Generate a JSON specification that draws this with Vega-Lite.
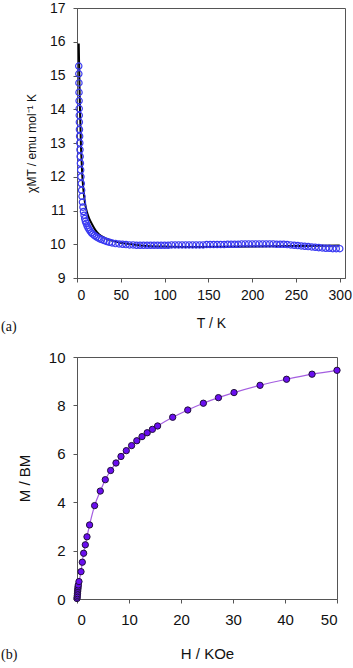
{
  "$schema": "https://vega.github.io/schema/vega-lite/v6.json",
  "padding": {"left": 0, "top": 0, "right": 5, "bottom": 2},
  "spacing": 14,
  "config": {
    "font": "Liberation Sans",
    "view": {"stroke": "#555555", "strokeWidth": 1},
    "axis": {"grid": false, "domainColor": "#555555", "tickColor": "#555555", "labelFont": "Liberation Sans", "labelFontSize": 14, "labelColor": "#111111", "labelOverlap": false, "labelSeparation": 0, "titleFont": "Liberation Sans", "titleFontWeight": "normal", "titleColor": "#111111", "tickSize": 4, "labelPadding": 6}
  },
  "datasets": {
    "chi": [
      {"T": 2.0, "chiT": 15.28}, {"T": 2.1, "chiT": 15.05}, {"T": 2.2, "chiT": 14.78}, {"T": 2.3, "chiT": 14.5}, {"T": 2.4, "chiT": 14.25}, {"T": 2.5, "chiT": 14.02}, {"T": 2.6, "chiT": 13.82}, {"T": 2.7, "chiT": 13.62}, {"T": 2.8, "chiT": 13.4}, {"T": 3.0, "chiT": 13.2}, {"T": 3.2, "chiT": 13.0}, {"T": 3.4, "chiT": 12.8}, {"T": 3.6, "chiT": 12.6}, {"T": 3.9, "chiT": 12.4}, {"T": 4.2, "chiT": 12.2}, {"T": 4.5, "chiT": 12.0}, {"T": 4.9, "chiT": 11.8}, {"T": 5.3, "chiT": 11.6}, {"T": 5.7, "chiT": 11.42}, {"T": 6.2, "chiT": 11.25}, {"T": 6.8, "chiT": 11.1}, {"T": 7.4, "chiT": 10.97}, {"T": 8.1, "chiT": 10.86}, {"T": 8.8, "chiT": 10.76}, {"T": 9.6, "chiT": 10.68}, {"T": 10.5, "chiT": 10.62}, {"T": 11.5, "chiT": 10.55}, {"T": 12.6, "chiT": 10.49}, {"T": 13.8, "chiT": 10.44}, {"T": 15, "chiT": 10.39}, {"T": 16.5, "chiT": 10.34}, {"T": 18, "chiT": 10.3}, {"T": 20, "chiT": 10.26}, {"T": 22, "chiT": 10.22}, {"T": 24, "chiT": 10.19}, {"T": 26, "chiT": 10.16}, {"T": 28, "chiT": 10.14}, {"T": 31, "chiT": 10.11}, {"T": 34, "chiT": 10.08}, {"T": 37, "chiT": 10.06}, {"T": 40, "chiT": 10.04}, {"T": 44, "chiT": 10.02}, {"T": 48, "chiT": 10.01}, {"T": 52, "chiT": 10.0}, {"T": 56, "chiT": 9.99}, {"T": 60, "chiT": 9.98}, {"T": 64, "chiT": 9.98}, {"T": 68, "chiT": 9.97}, {"T": 72, "chiT": 9.97}, {"T": 76, "chiT": 9.97}, {"T": 80, "chiT": 9.97}, {"T": 84, "chiT": 9.97}, {"T": 88, "chiT": 9.97}, {"T": 92, "chiT": 9.97}, {"T": 96, "chiT": 9.97}, {"T": 100, "chiT": 9.97}, {"T": 104, "chiT": 9.97}, {"T": 108, "chiT": 9.98}, {"T": 112, "chiT": 9.98}, {"T": 116, "chiT": 9.98}, {"T": 120, "chiT": 9.98}, {"T": 124, "chiT": 9.98}, {"T": 128, "chiT": 9.98}, {"T": 132, "chiT": 9.98}, {"T": 136, "chiT": 9.98}, {"T": 140, "chiT": 9.98}, {"T": 144, "chiT": 9.98}, {"T": 148, "chiT": 9.99}, {"T": 152, "chiT": 9.99}, {"T": 156, "chiT": 9.99}, {"T": 160, "chiT": 9.99}, {"T": 164, "chiT": 9.99}, {"T": 168, "chiT": 9.99}, {"T": 172, "chiT": 10.0}, {"T": 176, "chiT": 10.0}, {"T": 180, "chiT": 10.0}, {"T": 184, "chiT": 10.0}, {"T": 188, "chiT": 10.01}, {"T": 192, "chiT": 10.01}, {"T": 196, "chiT": 10.01}, {"T": 200, "chiT": 10.01}, {"T": 204, "chiT": 10.01}, {"T": 208, "chiT": 10.01}, {"T": 212, "chiT": 10.01}, {"T": 216, "chiT": 10.01}, {"T": 220, "chiT": 10.01}, {"T": 224, "chiT": 10.01}, {"T": 228, "chiT": 10.0}, {"T": 232, "chiT": 10.0}, {"T": 236, "chiT": 10.0}, {"T": 240, "chiT": 9.99}, {"T": 244, "chiT": 9.98}, {"T": 248, "chiT": 9.97}, {"T": 252, "chiT": 9.96}, {"T": 256, "chiT": 9.95}, {"T": 260, "chiT": 9.94}, {"T": 264, "chiT": 9.93}, {"T": 268, "chiT": 9.92}, {"T": 272, "chiT": 9.91}, {"T": 276, "chiT": 9.9}, {"T": 280, "chiT": 9.89}, {"T": 284, "chiT": 9.88}, {"T": 288, "chiT": 9.88}, {"T": 292, "chiT": 9.87}, {"T": 296, "chiT": 9.87}, {"T": 300, "chiT": 9.87}
    ],
    "fit": [
      {"T": 2, "chiT": 15.95}, {"T": 2.5, "chiT": 15.2}, {"T": 3, "chiT": 14.5}, {"T": 3.5, "chiT": 13.9}, {"T": 4, "chiT": 13.4}, {"T": 4.5, "chiT": 12.95}, {"T": 5, "chiT": 12.6}, {"T": 6, "chiT": 12.05}, {"T": 7, "chiT": 11.7}, {"T": 8, "chiT": 11.45}, {"T": 9, "chiT": 11.25}, {"T": 10, "chiT": 11.1}, {"T": 12, "chiT": 10.9}, {"T": 14, "chiT": 10.76}, {"T": 17, "chiT": 10.6}, {"T": 21, "chiT": 10.42}, {"T": 25, "chiT": 10.3}, {"T": 30, "chiT": 10.21}, {"T": 37, "chiT": 10.13}, {"T": 45, "chiT": 10.07}, {"T": 55, "chiT": 10.02}, {"T": 65, "chiT": 9.99}, {"T": 80, "chiT": 9.95}, {"T": 100, "chiT": 9.93}, {"T": 120, "chiT": 9.92}, {"T": 150, "chiT": 9.92}, {"T": 200, "chiT": 9.93}, {"T": 250, "chiT": 9.95}, {"T": 300, "chiT": 9.96}
    ],
    "mag": [
      {"H": 0.0, "M": 0.02}, {"H": 0.03, "M": 0.08}, {"H": 0.06, "M": 0.15}, {"H": 0.09, "M": 0.22}, {"H": 0.12, "M": 0.3}, {"H": 0.15, "M": 0.37}, {"H": 0.18, "M": 0.44}, {"H": 0.21, "M": 0.51}, {"H": 0.25, "M": 0.58}, {"H": 0.38, "M": 0.72}, {"H": 0.77, "M": 1.13}, {"H": 1.02, "M": 1.52}, {"H": 1.28, "M": 1.89}, {"H": 1.6, "M": 2.24}, {"H": 1.92, "M": 2.57}, {"H": 2.42, "M": 3.06}, {"H": 3.39, "M": 3.86}, {"H": 4.48, "M": 4.46}, {"H": 5.44, "M": 4.93}, {"H": 6.47, "M": 5.31}, {"H": 7.5, "M": 5.62}, {"H": 8.46, "M": 5.89}, {"H": 9.48, "M": 6.13}, {"H": 10.5, "M": 6.34}, {"H": 11.5, "M": 6.54}, {"H": 12.5, "M": 6.71}, {"H": 13.5, "M": 6.87}, {"H": 14.5, "M": 7.01}, {"H": 15.5, "M": 7.15}, {"H": 18.4, "M": 7.51}, {"H": 21.3, "M": 7.81}, {"H": 24.3, "M": 8.09}, {"H": 27.2, "M": 8.32}, {"H": 30.2, "M": 8.53}, {"H": 35.2, "M": 8.83}, {"H": 40.3, "M": 9.08}, {"H": 45.2, "M": 9.29}, {"H": 50.0, "M": 9.45}
    ]
  },
  "vconcat": [
    {
      "width": 268,
      "height": 270,
      "title": {"text": "(a)", "orient": "bottom", "anchor": "start", "frame": "group", "font": "Liberation Serif", "fontSize": 14, "fontWeight": "normal", "color": "#111111", "dx": -76, "offset": -10},
      "encoding": {
        "x": {"field": "T", "type": "quantitative", "scale": {"domain": [0, 306], "nice": false}, "axis": {"values": [0, 50, 100, 150, 200, 250, 300], "title": "T / K", "titleFontSize": 14, "titlePadding": 14, "labelPadding": 6, "labelOverlap": false}},
        "y": {"field": "chiT", "type": "quantitative", "scale": {"domain": [9, 17], "nice": false, "zero": false}, "axis": {"values": [9, 10, 11, 12, 13, 14, 15, 16, 17], "title": "χMT / emu mol⁻¹ K", "titleFontSize": 12, "titlePadding": 11, "labelPadding": 8, "labelOverlap": false, "labelFontSize": 14}}
      },
      "layer": [
        {
          "data": {"name": "fit"},
          "mark": {"type": "line", "color": "#000000", "strokeWidth": 2, "interpolate": "monotone"}
        },
        {
          "data": {"name": "chi"},
          "mark": {"type": "point", "filled": false, "color": "#3a3af2", "size": 40, "strokeWidth": 1.2, "opacity": 1}
        }
      ]
    },
    {
      "width": 260,
      "height": 242,
      "title": {"text": "(b)", "orient": "bottom", "anchor": "start", "frame": "group", "font": "Liberation Serif", "fontSize": 14, "fontWeight": "normal", "color": "#111111", "dx": -76, "offset": -13},
      "data": {"name": "mag"},
      "encoding": {
        "x": {"field": "H", "type": "quantitative", "scale": {"domain": [0, 50], "nice": false}, "axis": {"values": [0, 10, 20, 30, 40, 50], "title": "H / KOe", "titleFontSize": 15, "titlePadding": 19, "labelPadding": 9, "labelFontSize": 15}},
        "y": {"field": "M", "type": "quantitative", "scale": {"domain": [0, 10], "nice": false}, "axis": {"values": [0, 2, 4, 6, 8, 10], "title": "M / BM", "titleFontSize": 15, "titlePadding": 16, "labelPadding": 8, "labelFontSize": 15}}
      },
      "layer": [
        {"mark": {"type": "line", "color": "#a45ee0", "strokeWidth": 1.2, "interpolate": "monotone"}},
        {"mark": {"type": "point", "filled": true, "fill": "#6a0ef0", "stroke": "#20103a", "strokeWidth": 1, "size": 40, "opacity": 1}}
      ]
    }
  ]
}
